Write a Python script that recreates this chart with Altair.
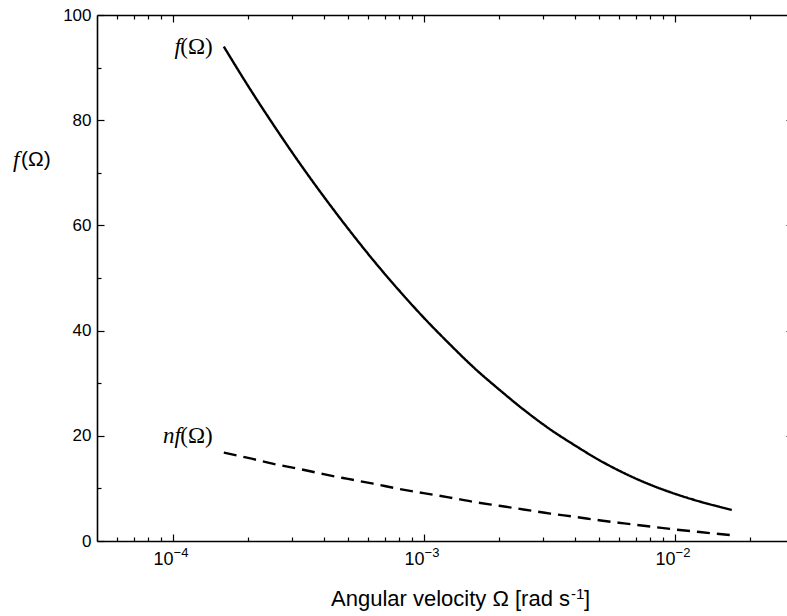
import altair as alt
import pandas as pd

# ---- data ----
omega = [1.6e-4, 2e-4, 2.5e-4, 3.2e-4, 4e-4, 5e-4, 6.3e-4, 8e-4, 1e-3,
         1.26e-3, 1.6e-3, 2e-3, 2.5e-3, 3.2e-3, 4e-3, 5e-3, 6.3e-3, 8e-3,
         1e-2, 1.26e-2, 1.69e-2]
f_vals = [94.0, 86.5, 79.4, 71.9, 65.5, 59.4, 53.4, 47.6, 42.5,
          37.6, 32.8, 28.8, 25.0, 21.2, 18.2, 15.4, 12.9, 10.7,
          9.0, 7.5, 5.9]
nf_vals = [16.8, 15.8, 14.7, 13.7, 12.7, 11.8, 10.9, 9.9, 9.1,
           8.3, 7.4, 6.7, 6.0, 5.2, 4.6, 3.95, 3.35, 2.75,
           2.2, 1.7, 1.1]

x_major = [1e-4, 1e-3, 1e-2]
x_major_exp = ["−4", "−3", "−2"]
x_minor = [6e-5, 7e-5, 8e-5, 9e-5,
           2e-4, 3e-4, 4e-4, 5e-4, 6e-4, 7e-4, 8e-4, 9e-4,
           2e-3, 3e-3, 4e-3, 5e-3, 6e-3, 7e-3, 8e-3, 9e-3,
           2e-2]
y_major = [0, 20, 40, 60, 80, 100]
y_minor = [10, 30, 50, 70, 90]

x_domain = [5e-5, 0.02805]
y_domain = [0, 100]

W, H = 690, 526

rows = []
for o, v in zip(omega, f_vals):
    rows.append({"omega": o, "value": v, "series": "f"})
for o, v in zip(omega, nf_vals):
    rows.append({"omega": o, "value": v, "series": "nf"})
df = pd.DataFrame(rows)

xs = alt.Scale(type="log", domain=x_domain, nice=False)
ys = alt.Scale(domain=y_domain, nice=False)

FONT = "Liberation Sans"
SERIF = "Liberation Serif"


def ax(orient, values, size, labels=False, domain=False, **kw):
    d = dict(orient=orient, values=values, tickSize=size, offset=-size,
             domain=domain, labels=labels, grid=False, title=None,
             tickColor="black", tickWidth=1.2)
    d.update(kw)
    return alt.Axis(**d)


def frame(orient):
    return alt.Axis(orient=orient, ticks=False, labels=False, grid=False,
                    domain=True, domainColor="black", domainWidth=1.6,
                    title=None)


lines = alt.Chart(df).mark_line(strokeWidth=2.4, color="black",
                                interpolate="monotone").encode(
    x=alt.X("omega:Q", scale=xs, axis=ax("bottom", x_major, 7)),
    y=alt.Y("value:Q", scale=ys,
            axis=ax("left", y_major, 7, labels=True, labelFont=FONT,
                    labelFontSize=17, labelPadding=6, labelColor="black")),
    strokeDash=alt.StrokeDash("series:N",
                              scale=alt.Scale(domain=["f", "nf"],
                                              range=[[1, 0], [13, 7]]),
                              legend=None),
    detail="series:N",
)

base = alt.Chart(df).mark_point(opacity=0)

l_minor = base.encode(
    x=alt.X("omega:Q", scale=xs, axis=ax("bottom", x_minor, 4)),
    y=alt.Y("value:Q", scale=ys, axis=ax("left", y_minor, 4)),
)
l_top_major = base.encode(
    x=alt.X("omega:Q", scale=xs, axis=ax("top", x_major, 7)),
    y=alt.Y("value:Q", scale=ys, axis=frame("left")),
)
l_top_minor = base.encode(
    x=alt.X("omega:Q", scale=xs, axis=ax("top", x_minor, 4)),
    y=alt.Y("value:Q", scale=ys, axis=ax("right", y_major, 1, offset=-1)),
)
l_frames = base.encode(
    x=alt.X("omega:Q", scale=xs, axis=frame("bottom")),
    y=alt.Y("value:Q", scale=ys, axis=None),
)
l_frames2 = base.encode(
    x=alt.X("omega:Q", scale=xs, axis=frame("top")),
    y=alt.Y("value:Q", scale=ys, axis=None),
)

# x tick labels: "10" with a raised exponent
tick_df = pd.DataFrame({"omega": x_major, "exp": x_major_exp})
tick_base = alt.Chart(tick_df).mark_text(
    text="10", font=FONT, fontSize=18, align="right", baseline="alphabetic",
    dx=1, color="black").encode(
    x=alt.X("omega:Q", scale=xs, axis=None), y=alt.value(H + 24))
tick_exp = alt.Chart(tick_df).mark_text(
    font=FONT, fontSize=13, align="left", baseline="alphabetic",
    dx=1, color="black").encode(
    x=alt.X("omega:Q", scale=xs, axis=None), y=alt.value(H + 16),
    text="exp:N")

# curve labels (anchored at the start of each curve)
lab_df = pd.DataFrame({
    "omega": [omega[0], omega[0]],
    "value": [f_vals[0], nf_vals[0]],
})


def curve_label(i, it_text, dx_it, dy):
    enc = dict(x=alt.X("omega:Q", scale=xs, axis=None),
               y=alt.Y("value:Q", scale=ys, axis=None))
    a = alt.Chart(lab_df.iloc[[i]]).mark_text(
        text=it_text, font=SERIF, fontStyle="italic", fontSize=23,
        align="right", baseline="middle", dx=dx_it, dy=dy,
        color="black").encode(**enc)
    b = alt.Chart(lab_df.iloc[[i]]).mark_text(
        text="(Ω)", font=SERIF, fontSize=23, align="right",
        baseline="middle", dx=-11, dy=dy, color="black").encode(**enc)
    return a + b


lab_f = curve_label(0, "f", -43, 0)
lab_nf = curve_label(1, "nf", -43, -17)

# axis titles
one = pd.DataFrame({"k": [0]})
ytitle_f = alt.Chart(one).mark_text(
    text="f", font=SERIF, fontStyle="italic", fontSize=23, align="left",
    baseline="middle", color="black").encode(
    x=alt.value(-84), y=alt.value(145))
ytitle_rest = alt.Chart(one).mark_text(
    text="(Ω)", font=FONT, fontSize=21, align="left",
    baseline="middle", color="black").encode(
    x=alt.value(-76), y=alt.value(145))

XT = W / 2 + 128
xtitle_main = alt.Chart(one).mark_text(
    text="Angular velocity Ω [rad s", font=FONT, fontSize=22,
    align="right", baseline="alphabetic", color="black").encode(
    x=alt.value(XT), y=alt.value(H + 65))
xtitle_exp = alt.Chart(one).mark_text(
    text="-1", font=FONT, fontSize=15, align="left",
    baseline="alphabetic", color="black").encode(
    x=alt.value(XT + 1), y=alt.value(H + 58))
xtitle_end = alt.Chart(one).mark_text(
    text="]", font=FONT, fontSize=22, align="left",
    baseline="alphabetic", color="black").encode(
    x=alt.value(XT + 14), y=alt.value(H + 65))

chart = alt.layer(
    lines, l_minor, l_top_major, l_top_minor, l_frames, l_frames2,
    tick_base, tick_exp, lab_f, lab_nf,
    ytitle_f, ytitle_rest, xtitle_main, xtitle_exp, xtitle_end,
).resolve_axis(x="independent", y="independent").properties(
    width=W, height=H,
    autosize=alt.AutoSizeParams(type="none"),
    padding={"left": 97, "top": 15, "right": 0, "bottom": 75},
    background="white",
).configure_view(stroke=None)

chart.save("out.html", embed_options={"renderer": "svg", "actions": False})
